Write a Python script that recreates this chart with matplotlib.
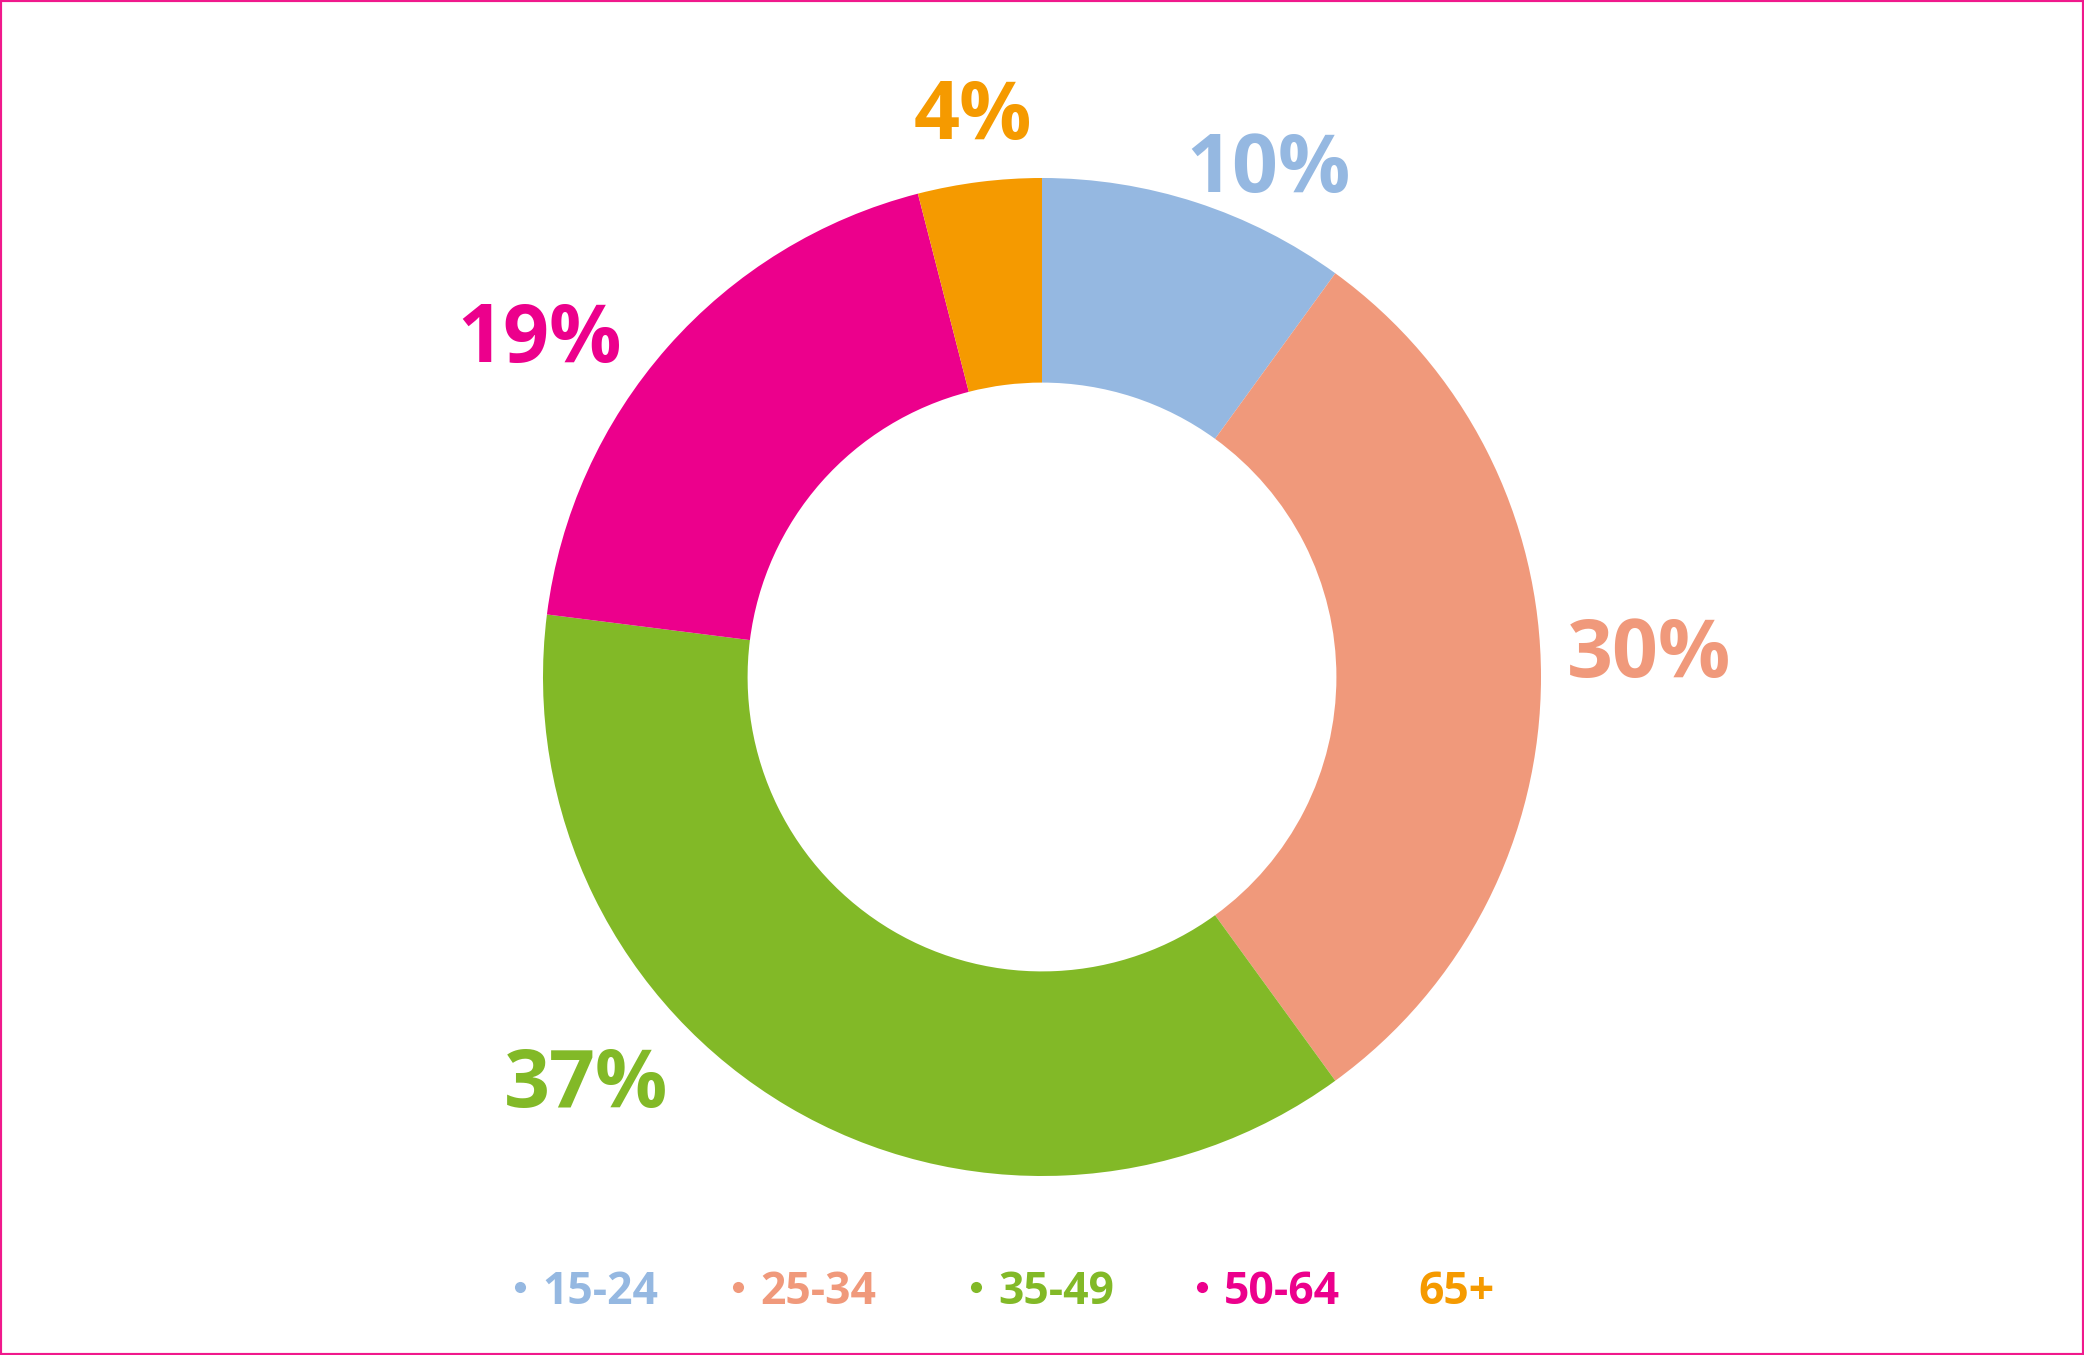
import matplotlib.pyplot as plt
from matplotlib.patches import Rectangle

# data
age_groups = ['15-24', '25-34', '35-49', '50-64', '65+']
shares = [10, 30, 37, 19, 4]
colors = ['#95B8E1', '#F0997B', '#82B927', '#EC008C', '#F59A00']

FONT = 'Open Sans'

W, H = 2084, 1355
fig = plt.figure(figsize=(W / 100, H / 100), dpi=100)
ax = fig.add_axes([0, 0, 1, 1])

cx, cy, r = 1042, 678, 499
ax.pie(shares, colors=colors, startangle=90, counterclock=False,
       center=(cx, cy), radius=r, frame=True,
       wedgeprops=dict(width=r * 0.41, linewidth=0))
ax.set_xlim(0, W)
ax.set_ylim(0, H)
ax.set_aspect('equal')
ax.axis('off')

# percentage labels (offsets in units of radius from the centre)
label_pos = [(0.453, 1.014), (1.216, 0.042), (-0.914, -0.82), (-1.006, 0.673), (-0.138, 1.12)]
for val, col, (dx, dy) in zip(shares, colors, label_pos):
    fig.text((cx + dx * r) / W, (cy + dy * r) / H, '{}%'.format(val), color=col,
             family=FONT, fontsize=58, fontweight='bold', ha='center', va='center')

# legend along the bottom
legend_x = [542, 760, 998, 1224, 1418]
ly = H - 1292
for i, (name, col, tx) in enumerate(zip(age_groups, colors, legend_x)):
    if i < 4:
        ax.plot(tx - 22, ly + 5, 'o', color=col, ms=8, mec='none')
    fig.text(tx / W, ly / H, name, color=col, family=FONT, fontsize=32,
             fontweight='bold', ha='left', va='center')

# pink frame
fig.patches.append(Rectangle((0, 0), 1, 1, transform=fig.transFigure,
                             fill=False, edgecolor='#F0198C', linewidth=3))

fig.savefig('out.png', dpi=100)
